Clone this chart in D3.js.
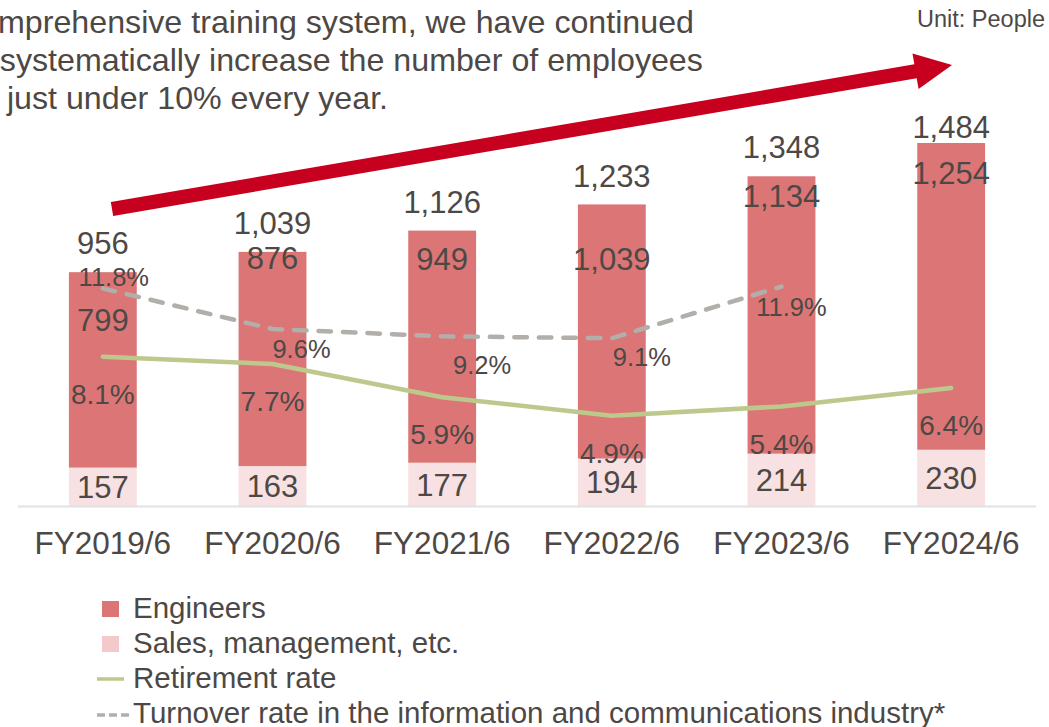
<!DOCTYPE html>
<html>
<head>
<meta charset="utf-8">
<script src="https://cdn.jsdelivr.net/npm/d3@7"></script>
<style>
  html, body { margin: 0; padding: 0; background: #ffffff; }
  svg { display: block; }
  text { font-family: "Liberation Sans", Arial, sans-serif; fill: #4d4845; }
</style>
</head>
<body>
<svg id="chart" width="1049" height="727"></svg>
<script>
// ---- data ----
const categories   = ["FY2019/6", "FY2020/6", "FY2021/6", "FY2022/6", "FY2023/6", "FY2024/6"];
const engineers    = [799, 876, 949, 1039, 1134, 1254];
const salesMgmt    = [157, 163, 177, 194, 214, 230];
const totals       = [956, 1039, 1126, 1233, 1348, 1484];
const retireRate   = [8.1, 7.7, 5.9, 4.9, 5.4, 6.4];
const industryRate = [11.8, 9.6, 9.2, 9.1, 11.9];          // no figure for FY2024/6
const legendLabels = ["Engineers", "Sales, management, etc.", "Retirement rate",
                      "Turnover rate in the information and communications industry*"];
const introLines   = ["comprehensive training system, we have continued",
                      "to systematically increase the number of employees",
                      "by just under 10% every year."];

// ---- styling ----
const C = {
  eng: "#dc7676", sales: "#f8e1e2", salesKey: "#f4c9cb",
  retire: "#bdc98c", industry: "#b2aeaa", arrow: "#c8001f",
  axis: "#e2e2e2", text: "#4d4845"
};

const svg = d3.select("#chart");
const base = 506;

const x = d3.scaleBand().domain(categories).range([18, 1036])
  .paddingInner(0.6).paddingOuter(0.3);
const y = d3.scaleLinear().domain([0, 1500]).range([base, base - 1500 * 0.2446]);
const yPct = d3.scaleLinear().domain([0, 20]).range([base, base - 20 * 18.44]);
const cx = c => x(c) + x.bandwidth() / 2;
const fmt = d3.format(",");

// ---- intro text (runs off the left edge) ----
const intro = svg.append("g");
introLines.forEach((t, i) => {
  intro.append("text").attr("x", -36).attr("y", 33 + i * 38)
    .style("font-size", "32.2px").text(t);
});

svg.append("text").attr("x", 1045).attr("y", 27).attr("text-anchor", "end")
  .style("font-size", "23.5px").text("Unit: People");

// ---- growth arrow ----
(function drawArrow() {
  const s = [112, 209], tip = [952, 65];
  const dx = tip[0] - s[0], dy = tip[1] - s[1];
  const L = Math.hypot(dx, dy);
  const u = [dx / L, dy / L], n = [-u[1], u[0]];
  const hw = 7, headLen = 37, headHw = 18;
  const hb = [tip[0] - u[0] * headLen, tip[1] - u[1] * headLen];
  const p = (pt, k) => [pt[0] + n[0] * k, pt[1] + n[1] * k];
  const pts = [p(s, -hw), p(hb, -hw), p(hb, -headHw), tip, p(hb, headHw), p(hb, hw), p(s, hw)];
  svg.append("path").attr("d", d3.line()(pts) + "Z").attr("fill", C.arrow);
})();

// ---- stacked bars ----
const stackData = categories.map((c, i) => ({ cat: c, sales: salesMgmt[i], eng: engineers[i] }));
const stack = d3.stack().keys(["sales", "eng"])(stackData);
const bars = svg.append("g");
stack.forEach(layer => {
  bars.selectAll(null).data(layer).join("rect")
    .attr("x", d => x(d.data.cat))
    .attr("width", x.bandwidth())
    .attr("y", d => y(d[1]))
    .attr("height", d => y(d[0]) - y(d[1]))
    .attr("fill", layer.key === "eng" ? C.eng : C.sales);
});

// baseline
svg.append("line").attr("x1", 18).attr("x2", 1036).attr("y1", base + 0.5).attr("y2", base + 0.5)
  .attr("stroke", C.axis).attr("stroke-width", 2);

// ---- rate lines ----
const rateLine = d3.line().x((d, i) => cx(categories[i])).y(d => yPct(d));
svg.append("path").datum(retireRate).attr("d", rateLine)
  .attr("fill", "none").attr("stroke", C.retire).attr("stroke-width", 4.5)
  .attr("stroke-linecap", "round").attr("stroke-linejoin", "round");

svg.append("path").datum(industryRate).attr("d", rateLine)
  .attr("fill", "none").attr("stroke", C.industry).attr("stroke-width", 4.5)
  .attr("stroke-dasharray", "12.5,12").attr("stroke-linecap", "round");

// ---- labels ----
const lbl = svg.append("g").attr("text-anchor", "middle");
// sales labels, centred in their segment
salesMgmt.forEach((v, i) => {
  lbl.append("text").attr("x", cx(categories[i])).attr("y", (y(0) + y(v)) / 2)
    .attr("dy", "0.36em").style("font-size", "31px").text(fmt(v));
});
// engineer labels, nudged down from the segment top to clear the lines
const engNudge = [48, 6, 28, 54, 20, 30];
engineers.forEach((v, i) => {
  lbl.append("text").attr("x", cx(categories[i])).attr("y", y(totals[i]) + engNudge[i])
    .attr("dy", "0.36em").style("font-size", "31px").text(fmt(v));
});
// totals above the bars, kept inside the plot top
totals.forEach((v, i) => {
  lbl.append("text").attr("x", cx(categories[i])).attr("y", Math.max(y(v) - 29, 127))
    .attr("dy", "0.36em").style("font-size", "31px").text(fmt(v));
});
// retirement rate labels under each point
retireRate.forEach((v, i) => {
  lbl.append("text").attr("x", cx(categories[i])).attr("y", yPct(v) + 37)
    .attr("dy", "0.36em").style("font-size", "28px").text(v.toFixed(1) + "%");
});
// industry turnover labels, offset beside each point
const indOffset = [[11, -12], [29, 20], [40, 28], [30, 19], [10, 20]];
industryRate.forEach((v, i) => {
  lbl.append("text").attr("x", cx(categories[i]) + indOffset[i][0])
    .attr("y", yPct(v) + indOffset[i][1])
    .attr("dy", "0.36em").style("font-size", "25.5px").text(v.toFixed(1) + "%");
});

// ---- category axis ----
const xAxis = svg.append("g").attr("transform", `translate(0,${base})`)
  .call(d3.axisBottom(x).tickSize(0).tickPadding(26));
xAxis.select(".domain").remove();
xAxis.selectAll("text").style("font-size", "31.5px")
  .style("font-family", '"Liberation Sans", Arial, sans-serif').attr("fill", C.text);

// ---- legend ----
const lg = svg.append("g");
legendLabels.forEach((t, i) => {
  const by = 618 + i * 35;
  if (i < 2) {
    lg.append("rect").attr("x", 102).attr("y", by - 17).attr("width", 17).attr("height", 16)
      .attr("fill", i === 0 ? C.eng : C.salesKey);
  } else if (i === 2) {
    lg.append("line").attr("x1", 97).attr("x2", 124).attr("y1", by - 9).attr("y2", by - 9)
      .attr("stroke", C.retire).attr("stroke-width", 3.5);
  } else {
    lg.append("line").attr("x1", 97).attr("x2", 129).attr("y1", by - 8).attr("y2", by - 8)
      .attr("stroke", C.industry).attr("stroke-width", 3.5).attr("stroke-dasharray", "8,4");
  }
  lg.append("text").attr("x", 133).attr("y", by).style("font-size", "29.5px").text(t);
});
</script>
</body>
</html>
